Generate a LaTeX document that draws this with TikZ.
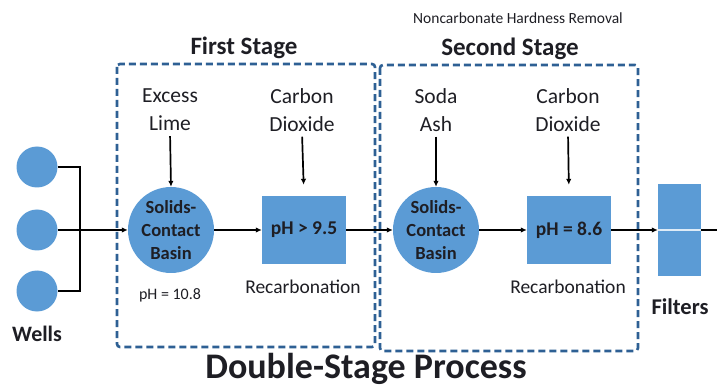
\documentclass[tikz,border=0pt]{standalone}
\usepackage{fontspec}
\setmainfont{Carlito}
\usetikzlibrary{arrows.meta}
\definecolor{unitblue}{RGB}{91,155,213}
\definecolor{stageblue}{RGB}{46,96,148}
\definecolor{ink}{RGB}{30,30,36}
\tikzset{
  basin/.style={circle, fill=unitblue, minimum size=86pt, inner sep=0pt, align=center,
    text=ink, font=\bfseries\fontsize{18.5}{23}\selectfont},
  recarb/.style={rectangle, fill=unitblue, minimum width=84pt, minimum height=68pt,
    inner sep=0pt, text=ink, font=\bfseries\fontsize{19.5}{23}\selectfont},
  well/.style={circle, fill=unitblue, minimum size=41pt, inner sep=0pt},
  chem/.style={align=center, text=ink, inner sep=1pt, font=\fontsize{21.5}{28}\selectfont},
  note/.style={text=ink, inner sep=0pt, font=\fontsize{19.5}{24}\selectfont},
  heading/.style={text=ink, inner sep=0pt, font=\bfseries\fontsize{25}{30}\selectfont},
  stagebox/.style={draw=stageblue, line width=2.6pt, dash pattern=on 7pt off 4pt,
    rounded corners=3pt},
  flow/.style={draw=black, line width=1.7pt, -{Latex[length=6pt,width=5.5pt]}},
  pipe/.style={draw=black, line width=1.7pt}
}
\begin{document}
\begin{tikzpicture}[x=1pt,y=-1pt]
  \useasboundingbox (0,0) rectangle (717,387);

  % stage frames
  \draw[stagebox] (117,64) rectangle (375,347);
  \draw[stagebox] (380,65) rectangle (638,351);

  % headings
  \node[heading] (firsthead) at (244,48) {First Stage};
  \node[heading] (secondhead) at (510,49) {Second Stage};
  \node[text=ink, inner sep=0pt, font=\fontsize{15.5}{18}\selectfont] (ncremoval) at (518,18) {Noncarbonate Hardness Removal};
  \node[text=ink, inner sep=0pt, anchor=base, font=\bfseries\fontsize{36}{40}\selectfont] (title) at (366,378) {Double-Stage Process};

  % wells
  \node[well] (w1) at (37,167) {};
  \node[well] (w2) at (37,230) {};
  \node[well] (w3) at (37,291) {};
  \node[text=ink, inner sep=0pt, font=\bfseries\fontsize{22}{26}\selectfont] (wells) at (37,334) {Wells};
  \coordinate (bustop) at (80,167);
  \coordinate (busbot) at (80,291);

  % first stage units
  \node[basin] (basin1) at (171,230) {Solids-\\Contact\\Basin};
  \node[recarb] (recarb1) at (304,230) {pH > 9.5};
  \node[chem] (lime) at (170,110) {Excess\\Lime};
  \node[chem] (co2a) at (302,110) {Carbon\\Dioxide};
  \node[text=ink, inner sep=0pt, font=\fontsize{16}{19}\selectfont] (ph1) at (170,295) {pH = 10.8};
  \node[note] (rc1) at (303,287) {Recarbonation};

  % second stage units
  \node[basin] (basin2) at (436,230) {Solids-\\Contact\\Basin};
  \node[recarb] (recarb2) at (569,230) {pH = 8.6};
  \node[chem] (soda) at (436,110) {Soda\\Ash};
  \node[chem] (co2b) at (568,110) {Carbon\\Dioxide};
  \node[note] (rc2) at (568,287) {Recarbonation};

  % filters
  \node[rectangle, fill=unitblue, minimum width=43pt, minimum height=91pt, inner sep=0pt] (filter) at (679.5,230) {};
  \draw[white!80!unitblue, line width=1.2pt] (filter.west) -- (filter.east);
  \node[text=ink, inner sep=0pt, font=\bfseries\fontsize{22.5}{26}\selectfont] (filtlabel) at (680,307) {Filters};
  \coordinate (outlet) at (717,230);

  % well manifold
  \draw[pipe] (w1.east) -- (bustop) -- (busbot) -- (w3.east);
  \draw[flow] (w2.east) -- (basin1.west);

  % chemical feeds
  \draw[flow, shorten <=4pt] (lime.south) -- (basin1.north);
  \draw[flow, shorten <=4pt, shorten >=11pt] (co2a.south) -- (recarb1.north);
  \draw[flow, shorten <=4pt] (soda.south) -- (basin2.north);
  \draw[flow, shorten <=4pt, shorten >=11pt] (co2b.south) -- (recarb2.north);

  % main process line
  \draw[flow] (basin1.east) -- (recarb1.west);
  \draw[flow] (recarb1.east) -- (basin2.west);
  \draw[flow] (basin2.east) -- (recarb2.west);
  \draw[flow] (recarb2.east) -- (filter.west);
  \draw[pipe] (filter.east) -- (outlet);
\end{tikzpicture}
\end{document}
